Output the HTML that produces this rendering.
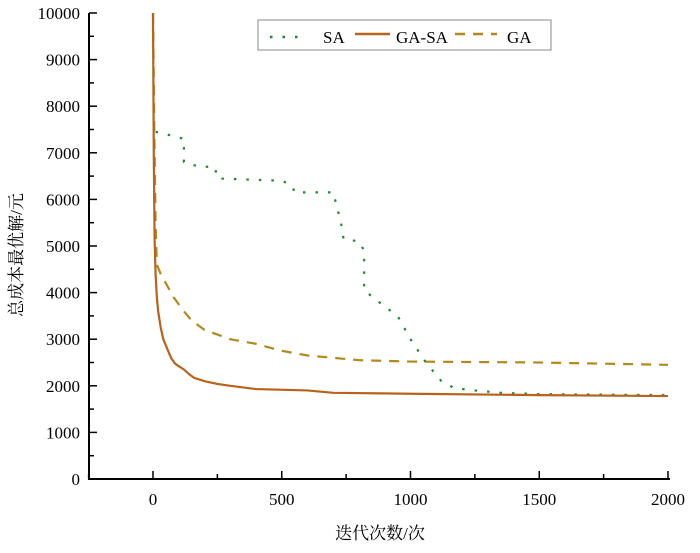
<!DOCTYPE html>
<html><head><meta charset="utf-8"><style>
body{margin:0;background:#fff;}
svg text{font-family:"Liberation Serif","Noto Serif CJK SC",serif;font-size:17px;fill:#000;}
</style></head><body>
<svg width="700" height="548" id="chart"></svg>
<script>
const xTicks=[0,500,1000,1500,2000];
const yTicks=[0,1000,2000,3000,4000,5000,6000,7000,8000,9000,10000];
const saX=[10,50,120,120,180,240,250,500,540,550,700,730,740,800,820,820,900,950,1000,1060,1120,1170,1250,1350,1500,2000];
const saY=[7450,7400,7300,6800,6700,6700,6450,6400,6300,6150,6150,5500,5150,5100,4900,4050,3700,3500,3000,2500,2100,1950,1900,1850,1820,1800];
const gasaX=[0,3,6,10,15,20,30,40,55,70,85,100,120,140,160,200,250,300,400,600,700,1000,1500,2000];
const gasaY=[10000,7000,5200,4400,3900,3600,3250,3000,2800,2600,2480,2420,2350,2250,2170,2100,2040,2000,1930,1900,1850,1830,1800,1780];
const gaX=[0,5,10,15,30,60,80,120,150,200,300,400,500,600,700,800,1000,1500,2000];
const gaY=[10000,7500,5500,4600,4400,4100,3900,3600,3400,3200,3000,2900,2750,2650,2600,2550,2520,2500,2450];
const NS='http://www.w3.org/2000/svg';
const svg=document.getElementById('chart');
const X=v=>153+v*(668-153)/2000;
const Y=v=>479-v*(479-13)/10000;
function mk(t,a,p){const e=document.createElementNS(NS,t);for(const k in a)e.setAttribute(k,a[k]);(p||svg).appendChild(e);return e;}
let ax=mk('line',{x1:89,y1:13,x2:89,y2:480,stroke:'#000','stroke-width':2});


let bx=mk('line',{x1:88,y1:479,x2:670,y2:479,stroke:'#000','stroke-width':2});


yTicks.forEach((v,i)=>{
 const tk=mk('line',{x1:89,y1:Y(v),x2:97,y2:Y(v),stroke:'#000','stroke-width':1.5});
 
 
 if(i<yTicks.length-1){const m=mk('line',{x1:89,y1:Y(v+500),x2:94,y2:Y(v+500),stroke:'#000','stroke-width':1.5});
 
 }
 const t=mk('text',{x:80,y:Y(v)+6,'text-anchor':'end'});t.textContent=v;
 
 
});
for(let v=-250;v<=2000;v+=250){
 const major=v%500===0;
 const tk=mk('line',{x1:X(v),y1:479,x2:X(v),y2:major?471:474,stroke:'#000','stroke-width':1.5});
 
 
}
xTicks.forEach(v=>{const t=mk('text',{x:X(v),y:505,'text-anchor':'middle'});t.textContent=v;
 
 });
function line(xs,ys,col,dash,name){
 const p=mk('polyline',{points:xs.map((x,i)=>X(x)+','+Y(ys[i])).join(' '),fill:'none',stroke:col,'stroke-width':2.2,'stroke-dasharray':dash});
 
 
}
line(gaX,gaY,'#b28a1c','10,8','ga-line');
line(saX,saY,'#1e8a2e','2.5,10','sa-line');
line(gasaX,gasaY,'#b8621a','none','ga-sa-line');
const lg=mk('g',{});


mk('rect',{x:258,y:20,width:293,height:30,fill:'#fff',stroke:'#888','stroke-width':1},lg);
mk('line',{x1:270,y1:37,x2:305,y2:37,stroke:'#1e8a2e','stroke-width':2.5,'stroke-dasharray':'2.5,10'},lg);
let t1=mk('text',{x:323,y:43},lg);t1.textContent='SA';
mk('line',{x1:355,y1:34,x2:390,y2:34,stroke:'#b8621a','stroke-width':2.5},lg);
let t2=mk('text',{x:396,y:43},lg);t2.textContent='GA-SA';
mk('line',{x1:455,y1:34,x2:497,y2:34,stroke:'#b28a1c','stroke-width':2.5,'stroke-dasharray':'10,8'},lg);
let t3=mk('text',{x:507,y:43},lg);t3.textContent='GA';
const xl=mk('text',{x:380,y:539,'text-anchor':'middle'});xl.textContent='迭代次数/次';


const yl=mk('text',{x:0,y:0,'text-anchor':'middle',transform:'translate(22,255) rotate(-90)'});yl.textContent='总成本最优解/元';


</script>
</body></html>
